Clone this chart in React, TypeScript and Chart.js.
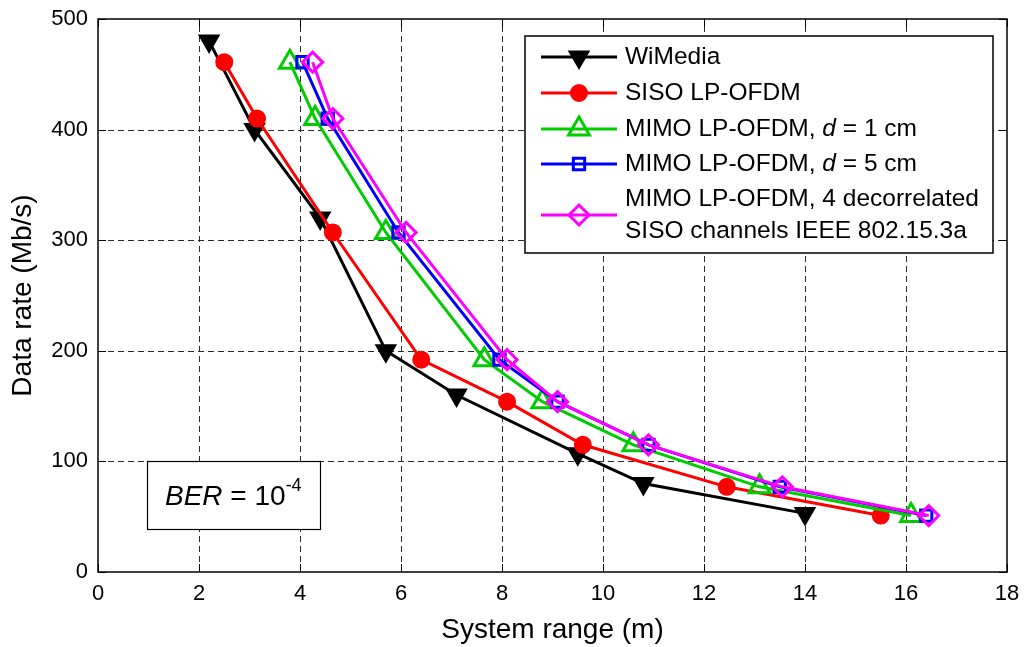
import React, { useEffect, useRef } from "react";
import { Chart, registerables } from "chart.js";

Chart.register(...registerables);

// ---------- data ----------
const xTickValues = [0, 2, 4, 6, 8, 10, 12, 14, 16, 18];
const yTickValues = [0, 100, 200, 300, 400, 500];

const wimediaRange = [2.2, 3.1, 4.4, 5.7, 7.1, 9.5, 10.8, 14.0];
const wimediaRate = [480, 400, 320, 200, 160, 107, 80, 53];

const sisoRange = [2.5, 3.15, 4.65, 6.4, 8.1, 9.6, 12.45, 15.5];
const sisoRate = [461, 410, 307, 192, 154, 115, 77, 51];

const mimo1Range = [3.8, 4.3, 5.7, 7.65, 8.8, 10.6, 13.1, 16.1];
const mimo1Rate = [461, 410, 307, 192, 154, 115, 77, 51];

const mimo5Range = [4.05, 4.55, 5.95, 7.95, 9.1, 10.9, 13.5, 16.4];
const mimo5Rate = [461, 410, 307, 192, 154, 115, 77, 51];

const mimoDecRange = [4.25, 4.65, 6.1, 8.1, 9.1, 10.9, 13.55, 16.45];
const mimoDecRate = [461, 410, 307, 192, 154, 115, 77, 51];

const FONT = "'Liberation Sans', Arial, Helvetica, sans-serif";

type MarkerKind = "triDown" | "circle" | "triUp" | "square" | "diamond";

interface SeriesDef {
  label: string;
  xs: number[];
  ys: number[];
  color: string;
  marker: MarkerKind;
}

const series: SeriesDef[] = [
  { label: "WiMedia", xs: wimediaRange, ys: wimediaRate, color: "#000000", marker: "triDown" },
  { label: "SISO LP-OFDM", xs: sisoRange, ys: sisoRate, color: "#ff0000", marker: "circle" },
  { label: "MIMO LP-OFDM, d = 1 cm", xs: mimo1Range, ys: mimo1Rate, color: "#00cc00", marker: "triUp" },
  { label: "MIMO LP-OFDM, d = 5 cm", xs: mimo5Range, ys: mimo5Rate, color: "#0000ff", marker: "square" },
  {
    label: "MIMO LP-OFDM, 4 decorrelated SISO channels IEEE 802.15.3a",
    xs: mimoDecRange,
    ys: mimoDecRate,
    color: "#ff00ff",
    marker: "diamond",
  },
];

// legend text pieces: [text, italic]
const legendTexts: [string, boolean][][][] = [
  [[["WiMedia", false]]],
  [[["SISO LP-OFDM", false]]],
  [[["MIMO LP-OFDM, ", false], ["d", true], [" = 1 cm", false]]],
  [[["MIMO LP-OFDM, ", false], ["d", true], [" = 5 cm", false]]],
  [[["MIMO LP-OFDM, 4 decorrelated", false]], [["SISO channels IEEE 802.15.3a", false]]],
];

const markerStyle: Record<MarkerKind, any> = {
  triDown: { pointStyle: "triangle", pointRotation: 180, pointRadius: 11, pointBorderWidth: 2, filled: true },
  circle: { pointStyle: "circle", pointRotation: 0, pointRadius: 8, pointBorderWidth: 2, filled: true },
  triUp: { pointStyle: "triangle", pointRotation: 0, pointRadius: 12, pointBorderWidth: 3, filled: false },
  square: { pointStyle: "rect", pointRotation: 0, pointRadius: 8, pointBorderWidth: 3, filled: false },
  diamond: { pointStyle: "rectRot", pointRotation: 0, pointRadius: 10, pointBorderWidth: 3, filled: false },
};

function drawMarker(ctx: CanvasRenderingContext2D, kind: MarkerKind, x: number, y: number, color: string) {
  const s = markerStyle[kind];
  const r = s.pointRadius;
  ctx.save();
  ctx.setLineDash([]);
  ctx.lineWidth = s.pointBorderWidth;
  ctx.strokeStyle = color;
  ctx.fillStyle = color;
  ctx.beginPath();
  const sin60 = Math.sqrt(3) / 2;
  if (kind === "triDown") {
    ctx.moveTo(x, y + r);
    ctx.lineTo(x - r * sin60, y - r / 2);
    ctx.lineTo(x + r * sin60, y - r / 2);
    ctx.closePath();
  } else if (kind === "triUp") {
    ctx.moveTo(x, y - r);
    ctx.lineTo(x + r * sin60, y + r / 2);
    ctx.lineTo(x - r * sin60, y + r / 2);
    ctx.closePath();
  } else if (kind === "circle") {
    ctx.arc(x, y, r, 0, Math.PI * 2);
  } else if (kind === "square") {
    const h = r * Math.SQRT1_2;
    ctx.rect(x - h, y - h, 2 * h, 2 * h);
  } else {
    ctx.moveTo(x - r, y);
    ctx.lineTo(x, y - r);
    ctx.lineTo(x + r, y);
    ctx.lineTo(x, y + r);
    ctx.closePath();
  }
  if (s.filled) ctx.fill();
  ctx.stroke();
  ctx.restore();
}

function drawRich(ctx: CanvasRenderingContext2D, parts: [string, boolean][], x: number, y: number, size: number) {
  let cx = x;
  for (const [t, it] of parts) {
    ctx.font = `${it ? "italic " : ""}${size}px ${FONT}`;
    ctx.fillText(t, cx, y);
    cx += ctx.measureText(t).width;
  }
}

const decorPlugin = {
  id: "decor",
  beforeDatasetsDraw(chart: any) {
    const { ctx, chartArea, scales } = chart;
    const { left, right, top, bottom } = chartArea;
    const xs = scales.x;
    const ys = scales.y;
    ctx.save();
    ctx.strokeStyle = "#2a2a2a";
    ctx.lineWidth = 1;
    ctx.setLineDash([6, 4]);
    for (const v of xTickValues) {
      if (v <= xs.min || v >= xs.max) continue;
      const px = Math.round(xs.getPixelForValue(v)) + 0.5;
      ctx.beginPath();
      ctx.moveTo(px, bottom);
      ctx.lineTo(px, top);
      ctx.stroke();
    }
    for (const v of yTickValues) {
      if (v <= ys.min || v >= ys.max) continue;
      const py = Math.round(ys.getPixelForValue(v)) + 0.5;
      ctx.beginPath();
      ctx.moveTo(left, py);
      ctx.lineTo(right, py);
      ctx.stroke();
    }
    ctx.restore();
  },
  afterDatasetsDraw(chart: any) {
    const { ctx, chartArea, scales } = chart;
    const { left, right, top, bottom } = chartArea;
    const xs = scales.x;
    const ys = scales.y;
    ctx.save();
    ctx.setLineDash([]);
    // axes box
    ctx.strokeStyle = "#000";
    ctx.lineWidth = 1.5;
    ctx.strokeRect(left, top, right - left, bottom - top);
    // inward ticks
    ctx.lineWidth = 1;
    const tl = 8;
    for (const v of xTickValues) {
      const px = Math.round(xs.getPixelForValue(v)) + 0.5;
      ctx.beginPath();
      ctx.moveTo(px, bottom);
      ctx.lineTo(px, bottom - tl);
      ctx.moveTo(px, top);
      ctx.lineTo(px, top + tl);
      ctx.stroke();
    }
    for (const v of yTickValues) {
      const py = Math.round(ys.getPixelForValue(v)) + 0.5;
      ctx.beginPath();
      ctx.moveTo(left, py);
      ctx.lineTo(left + tl, py);
      ctx.moveTo(right, py);
      ctx.lineTo(right - tl, py);
      ctx.stroke();
    }

    // BER annotation box
    const bx0 = 147, by0 = 461, bx1 = 320, by1 = 529;
    ctx.fillStyle = "#fff";
    ctx.fillRect(bx0, by0, bx1 - bx0, by1 - by0);
    ctx.strokeStyle = "#000";
    ctx.lineWidth = 1.2;
    ctx.strokeRect(bx0 + 0.5, by0 + 0.5, bx1 - bx0, by1 - by0);
    ctx.fillStyle = "#000";
    ctx.textBaseline = "alphabetic";
    ctx.textAlign = "left";
    let tx = 165;
    ctx.font = `italic 28px ${FONT}`;
    ctx.fillText("BER", tx, 505);
    tx += ctx.measureText("BER").width;
    ctx.font = `28px ${FONT}`;
    ctx.fillText(" = 10", tx, 505);
    tx += ctx.measureText(" = 10").width;
    ctx.font = `18px ${FONT}`;
    ctx.fillText("-4", tx, 491);

    // legend
    const lx0 = 525, ly0 = 36, lx1 = 993, ly1 = 253;
    ctx.fillStyle = "#fff";
    ctx.fillRect(lx0, ly0, lx1 - lx0, ly1 - ly0);
    ctx.strokeStyle = "#000";
    ctx.lineWidth = 1.5;
    ctx.strokeRect(lx0, ly0, lx1 - lx0, ly1 - ly0);
    const rowY = [57, 93, 129, 164, 215];
    const textLineOffsets = [[0], [0], [0], [0], [-16, 16]];
    series.forEach((s, i) => {
      const y = rowY[i];
      ctx.strokeStyle = s.color;
      ctx.lineWidth = 3;
      ctx.beginPath();
      ctx.moveTo(541, y);
      ctx.lineTo(617, y);
      ctx.stroke();
      drawMarker(ctx, s.marker, 579, y, s.color);
      ctx.fillStyle = "#000";
      ctx.textBaseline = "middle";
      ctx.textAlign = "left";
      legendTexts[i].forEach((line, j) => {
        drawRich(ctx, line, 625, y + textLineOffsets[i][j], 24.5);
      });
    });
    ctx.restore();
  },
};

export default function App() {
  const canvasRef = useRef<HTMLCanvasElement | null>(null);

  useEffect(() => {
    const canvas = canvasRef.current;
    if (!canvas) return;
    const datasets = series.map((s, i) => {
      const ms = markerStyle[s.marker];
      return {
        label: s.label,
        data: s.xs.map((x, k) => ({ x, y: s.ys[k] })),
        showLine: true,
        borderColor: s.color,
        backgroundColor: s.color,
        borderWidth: 3,
        tension: 0,
        pointStyle: ms.pointStyle,
        rotation: ms.pointRotation,
        pointRotation: ms.pointRotation,
        pointRadius: ms.pointRadius,
        pointHoverRadius: ms.pointRadius,
        pointBorderWidth: ms.pointBorderWidth,
        pointBorderColor: s.color,
        pointBackgroundColor: ms.filled ? s.color : "rgba(0,0,0,0)",
        order: series.length - i,
        clip: false as any,
      };
    });
    const chart = new Chart(canvas, {
      type: "scatter",
      data: { datasets },
      options: {
        animation: false,
        responsive: false,
        maintainAspectRatio: false,
        events: [],
        layout: { padding: { top: 19, right: 17, left: 0, bottom: 0 } },
        plugins: {
          legend: { display: false },
          tooltip: { enabled: false },
          title: { display: false },
        },
        scales: {
          x: {
            type: "linear",
            min: 0,
            max: 18,
            afterBuildTicks: (scale: any) => {
              scale.ticks = xTickValues.map((v) => ({ value: v }));
            },
            ticks: {
              color: "#000",
              font: { family: FONT, size: 22 },
              padding: 9,
              maxRotation: 0,
              autoSkip: false,
            },
            grid: { display: false, drawTicks: false },
            border: { display: false },
            title: {
              display: true,
              text: "System range (m)",
              color: "#000",
              font: { family: FONT, size: 28 },
              padding: { top: 0, bottom: 0 },
            },
            afterFit: (scale: any) => {
              scale.height = 75;
              scale.paddingLeft = 0;
              scale.paddingRight = 0;
              scale.paddingTop = 0;
              scale.paddingBottom = 0;
            },
          },
          y: {
            type: "linear",
            min: 0,
            max: 500,
            afterBuildTicks: (scale: any) => {
              scale.ticks = yTickValues.map((v) => ({ value: v }));
            },
            ticks: {
              color: "#000",
              font: { family: FONT, size: 22 },
              padding: 10,
              autoSkip: false,
            },
            grid: { display: false, drawTicks: false },
            border: { display: false },
            title: {
              display: true,
              text: "Data rate (Mb/s)",
              color: "#000",
              font: { family: FONT, size: 28 },
              padding: { top: 6, bottom: 0 },
            },
            afterFit: (scale: any) => {
              scale.width = 98;
              scale.paddingLeft = 0;
              scale.paddingRight = 0;
              scale.paddingTop = 0;
              scale.paddingBottom = 0;
            },
          },
        },
      } as any,
      plugins: [decorPlugin],
    });
    return () => chart.destroy();
  }, []);

  return (
    <div style={{ position: "fixed", left: 0, top: 0, width: 1024, height: 647, background: "#fff" }}>
      <canvas ref={canvasRef} width={1024} height={647} style={{ width: 1024, height: 647, display: "block" }} />
    </div>
  );
}
